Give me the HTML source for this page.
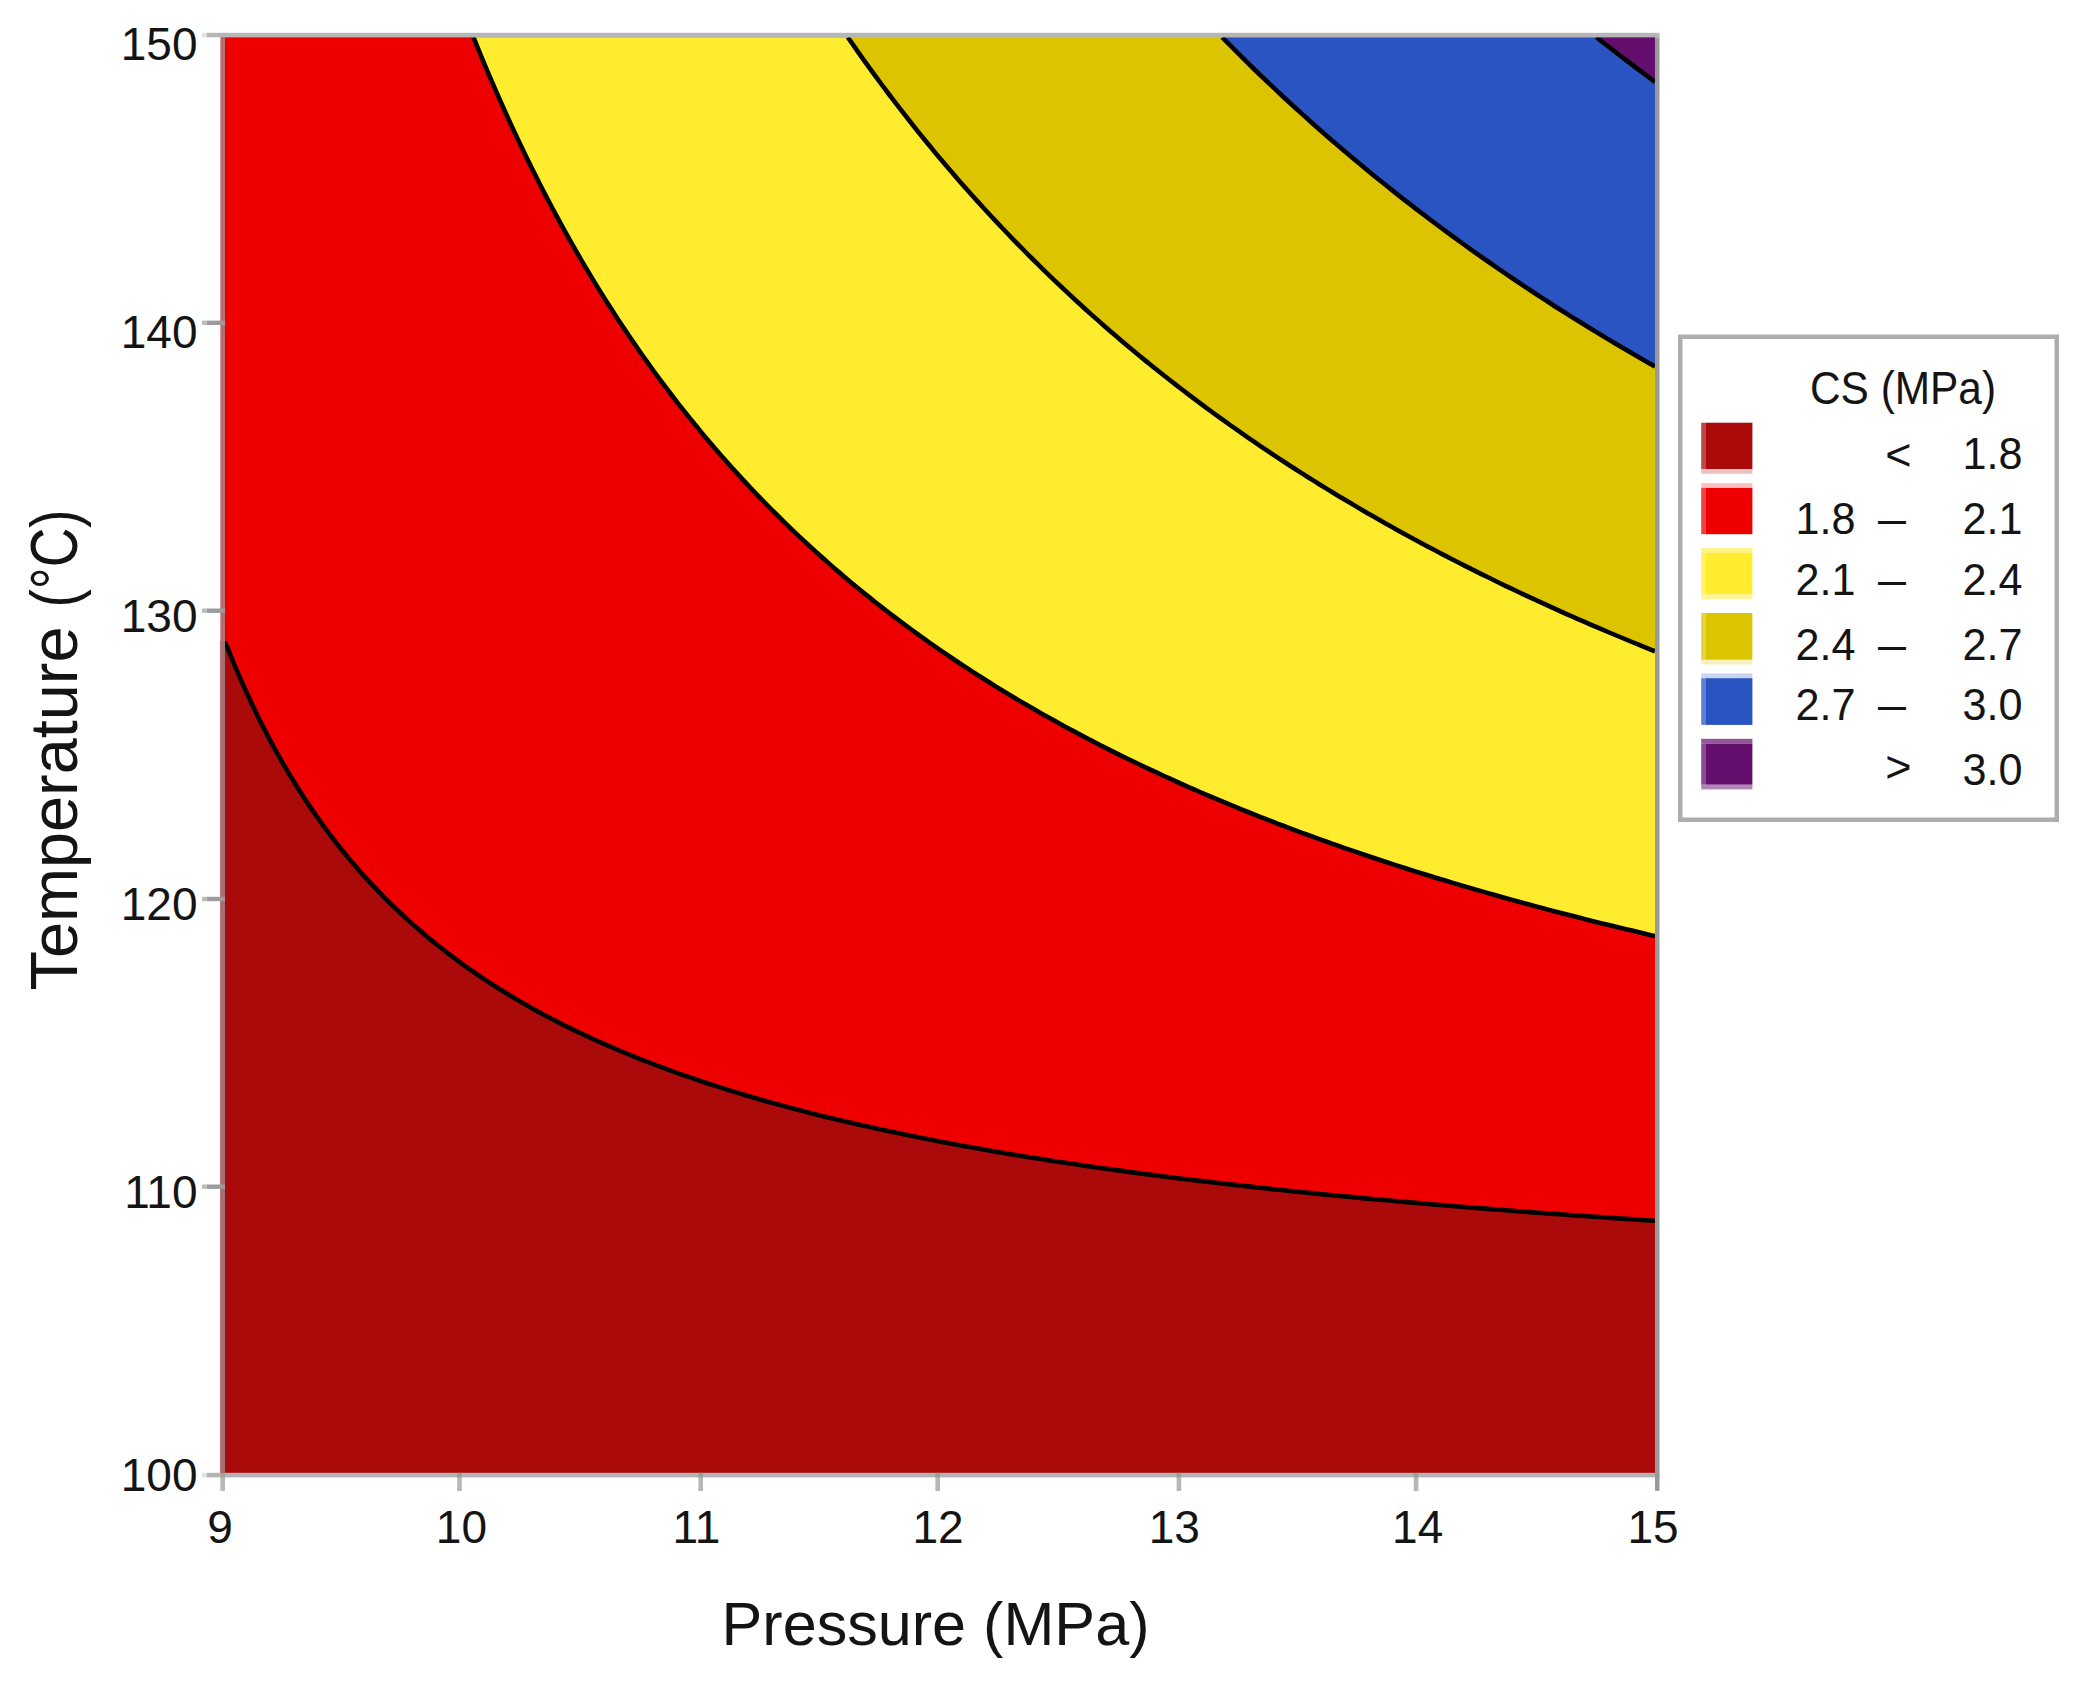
<!DOCTYPE html>
<html lang="en"><head><meta charset="utf-8"><title>Contour Plot of CS (MPa) vs Temperature, Pressure</title>
<style>
html,body{margin:0;padding:0;background:#fff;}
body{width:2085px;height:1687px;overflow:hidden;font-family:"Liberation Sans",Arial,sans-serif;}
svg{display:block;}
text{font-family:"Liberation Sans",Arial,sans-serif;fill:#141414;}
</style></head><body>
<svg width="2085" height="1687" viewBox="0 0 2085 1687">
<rect x="0" y="0" width="2085" height="1687" fill="#ffffff"/>
<g id="regions">
<defs><clipPath id="pc"><rect x="225.0" y="37.3" width="1430.0" height="1435.7"/></clipPath></defs>
<rect x="225.0" y="37.3" width="1430.0" height="1435.7" fill="#ab0a0a"/>
<path d="M225.0,641.5 L228.0,649.1 L234.0,663.8 L240.0,677.8 L246.0,691.3 L252.0,704.3 L258.0,716.7 L264.0,728.6 L270.0,740.1 L276.0,751.1 L282.0,761.8 L288.0,772.0 L294.0,781.9 L300.0,791.5 L306.0,800.7 L312.0,809.6 L318.0,818.2 L324.0,826.6 L330.0,834.6 L336.0,842.5 L342.0,850.0 L348.0,857.4 L354.0,864.5 L360.0,871.4 L366.0,878.1 L372.0,884.6 L378.0,890.9 L384.0,897.1 L390.0,903.1 L396.0,908.9 L402.0,914.5 L408.0,920.1 L414.0,925.4 L420.0,930.6 L426.0,935.7 L432.0,940.7 L438.0,945.5 L444.0,950.3 L450.0,954.9 L456.0,959.4 L462.0,963.8 L468.0,968.1 L474.0,972.2 L480.0,976.3 L486.0,980.3 L492.0,984.2 L498.0,988.1 L504.0,991.8 L510.0,995.5 L516.0,999.1 L522.0,1002.6 L528.0,1006.0 L534.0,1009.4 L540.0,1012.6 L546.0,1015.9 L552.0,1019.0 L558.0,1022.1 L564.0,1025.2 L570.0,1028.1 L576.0,1031.1 L582.0,1033.9 L588.0,1036.7 L594.0,1039.5 L600.0,1042.2 L606.0,1044.8 L612.0,1047.4 L618.0,1050.0 L624.0,1052.5 L630.0,1055.0 L636.0,1057.4 L642.0,1059.8 L648.0,1062.1 L654.0,1064.4 L660.0,1066.7 L666.0,1068.9 L672.0,1071.1 L678.0,1073.3 L684.0,1075.4 L690.0,1077.4 L696.0,1079.5 L702.0,1081.5 L708.0,1083.5 L714.0,1085.4 L720.0,1087.4 L726.0,1089.2 L732.0,1091.1 L738.0,1092.9 L744.0,1094.7 L750.0,1096.5 L756.0,1098.3 L762.0,1100.0 L768.0,1101.7 L774.0,1103.4 L780.0,1105.0 L786.0,1106.6 L792.0,1108.2 L798.0,1109.8 L804.0,1111.4 L810.0,1112.9 L816.0,1114.4 L822.0,1115.9 L828.0,1117.4 L834.0,1118.8 L840.0,1120.3 L846.0,1121.7 L852.0,1123.1 L858.0,1124.4 L864.0,1125.8 L870.0,1127.1 L876.0,1128.5 L882.0,1129.8 L888.0,1131.1 L894.0,1132.3 L900.0,1133.6 L906.0,1134.8 L912.0,1136.0 L918.0,1137.3 L924.0,1138.5 L930.0,1139.6 L936.0,1140.8 L942.0,1141.9 L948.0,1143.1 L954.0,1144.2 L960.0,1145.3 L966.0,1146.4 L972.0,1147.5 L978.0,1148.6 L984.0,1149.6 L990.0,1150.7 L996.0,1151.7 L1002.0,1152.7 L1008.0,1153.7 L1014.0,1154.7 L1020.0,1155.7 L1026.0,1156.7 L1032.0,1157.7 L1038.0,1158.6 L1044.0,1159.6 L1050.0,1160.5 L1056.0,1161.4 L1062.0,1162.3 L1068.0,1163.2 L1074.0,1164.1 L1080.0,1165.0 L1086.0,1165.9 L1092.0,1166.8 L1098.0,1167.6 L1104.0,1168.5 L1110.0,1169.3 L1116.0,1170.1 L1122.0,1170.9 L1128.0,1171.8 L1134.0,1172.6 L1140.0,1173.4 L1146.0,1174.2 L1152.0,1174.9 L1158.0,1175.7 L1164.0,1176.5 L1170.0,1177.2 L1176.0,1178.0 L1182.0,1178.7 L1188.0,1179.5 L1194.0,1180.2 L1200.0,1180.9 L1206.0,1181.6 L1212.0,1182.3 L1218.0,1183.0 L1224.0,1183.7 L1230.0,1184.4 L1236.0,1185.1 L1242.0,1185.8 L1248.0,1186.4 L1254.0,1187.1 L1260.0,1187.8 L1266.0,1188.4 L1272.0,1189.1 L1278.0,1189.7 L1284.0,1190.3 L1290.0,1191.0 L1296.0,1191.6 L1302.0,1192.2 L1308.0,1192.8 L1314.0,1193.4 L1320.0,1194.0 L1326.0,1194.6 L1332.0,1195.2 L1338.0,1195.8 L1344.0,1196.4 L1350.0,1196.9 L1356.0,1197.5 L1362.0,1198.1 L1368.0,1198.6 L1374.0,1199.2 L1380.0,1199.7 L1386.0,1200.3 L1392.0,1200.8 L1398.0,1201.4 L1404.0,1201.9 L1410.0,1202.4 L1416.0,1202.9 L1422.0,1203.5 L1428.0,1204.0 L1434.0,1204.5 L1440.0,1205.0 L1446.0,1205.5 L1452.0,1206.0 L1458.0,1206.5 L1464.0,1207.0 L1470.0,1207.5 L1476.0,1208.0 L1482.0,1208.4 L1488.0,1208.9 L1494.0,1209.4 L1500.0,1209.8 L1506.0,1210.3 L1512.0,1210.8 L1518.0,1211.2 L1524.0,1211.7 L1530.0,1212.1 L1536.0,1212.6 L1542.0,1213.0 L1548.0,1213.5 L1554.0,1213.9 L1560.0,1214.3 L1566.0,1214.8 L1572.0,1215.2 L1578.0,1215.6 L1584.0,1216.0 L1590.0,1216.5 L1596.0,1216.9 L1602.0,1217.3 L1608.0,1217.7 L1614.0,1218.1 L1620.0,1218.5 L1626.0,1218.9 L1632.0,1219.3 L1638.0,1219.7 L1644.0,1220.1 L1650.0,1220.5 L1655.0,1220.8 L1655.0,37.3 L225.0,37.3 Z" fill="#ee0000"/>
<path d="M473.5,37.3 L474.0,38.6 L480.0,53.4 L486.0,67.8 L492.0,81.9 L498.0,95.7 L504.0,109.2 L510.0,122.5 L516.0,135.4 L522.0,148.0 L528.0,160.4 L534.0,172.6 L540.0,184.5 L546.0,196.1 L552.0,207.5 L558.0,218.7 L564.0,229.7 L570.0,240.4 L576.0,250.9 L582.0,261.3 L588.0,271.4 L594.0,281.4 L600.0,291.1 L606.0,300.7 L612.0,310.1 L618.0,319.4 L624.0,328.4 L630.0,337.3 L636.0,346.1 L642.0,354.7 L648.0,363.2 L654.0,371.5 L660.0,379.6 L666.0,387.7 L672.0,395.5 L678.0,403.3 L684.0,410.9 L690.0,418.4 L696.0,425.8 L702.0,433.1 L708.0,440.3 L714.0,447.3 L720.0,454.2 L726.0,461.0 L732.0,467.8 L738.0,474.4 L744.0,480.9 L750.0,487.3 L756.0,493.6 L762.0,499.8 L768.0,506.0 L774.0,512.0 L780.0,518.0 L786.0,523.8 L792.0,529.6 L798.0,535.3 L804.0,540.9 L810.0,546.5 L816.0,551.9 L822.0,557.3 L828.0,562.6 L834.0,567.9 L840.0,573.1 L846.0,578.2 L852.0,583.2 L858.0,588.2 L864.0,593.1 L870.0,597.9 L876.0,602.7 L882.0,607.4 L888.0,612.0 L894.0,616.6 L900.0,621.1 L906.0,625.6 L912.0,630.0 L918.0,634.4 L924.0,638.7 L930.0,643.0 L936.0,647.2 L942.0,651.3 L948.0,655.4 L954.0,659.5 L960.0,663.5 L966.0,667.4 L972.0,671.4 L978.0,675.2 L984.0,679.0 L990.0,682.8 L996.0,686.6 L1002.0,690.2 L1008.0,693.9 L1014.0,697.5 L1020.0,701.1 L1026.0,704.6 L1032.0,708.1 L1038.0,711.5 L1044.0,714.9 L1050.0,718.3 L1056.0,721.6 L1062.0,724.9 L1068.0,728.2 L1074.0,731.4 L1080.0,734.6 L1086.0,737.8 L1092.0,740.9 L1098.0,744.0 L1104.0,747.1 L1110.0,750.1 L1116.0,753.1 L1122.0,756.1 L1128.0,759.0 L1134.0,761.9 L1140.0,764.8 L1146.0,767.6 L1152.0,770.4 L1158.0,773.2 L1164.0,776.0 L1170.0,778.7 L1176.0,781.4 L1182.0,784.1 L1188.0,786.8 L1194.0,789.4 L1200.0,792.0 L1206.0,794.6 L1212.0,797.2 L1218.0,799.7 L1224.0,802.2 L1230.0,804.7 L1236.0,807.1 L1242.0,809.6 L1248.0,812.0 L1254.0,814.4 L1260.0,816.8 L1266.0,819.1 L1272.0,821.4 L1278.0,823.8 L1284.0,826.0 L1290.0,828.3 L1296.0,830.6 L1302.0,832.8 L1308.0,835.0 L1314.0,837.2 L1320.0,839.3 L1326.0,841.5 L1332.0,843.6 L1338.0,845.7 L1344.0,847.8 L1350.0,849.9 L1356.0,851.9 L1362.0,854.0 L1368.0,856.0 L1374.0,858.0 L1380.0,860.0 L1386.0,862.0 L1392.0,863.9 L1398.0,865.9 L1404.0,867.8 L1410.0,869.7 L1416.0,871.6 L1422.0,873.5 L1428.0,875.3 L1434.0,877.2 L1440.0,879.0 L1446.0,880.8 L1452.0,882.6 L1458.0,884.4 L1464.0,886.2 L1470.0,887.9 L1476.0,889.7 L1482.0,891.4 L1488.0,893.1 L1494.0,894.8 L1500.0,896.5 L1506.0,898.2 L1512.0,899.9 L1518.0,901.5 L1524.0,903.1 L1530.0,904.8 L1536.0,906.4 L1542.0,908.0 L1548.0,909.6 L1554.0,911.2 L1560.0,912.7 L1566.0,914.3 L1572.0,915.8 L1578.0,917.3 L1584.0,918.9 L1590.0,920.4 L1596.0,921.9 L1602.0,923.4 L1608.0,924.8 L1614.0,926.3 L1620.0,927.8 L1626.0,929.2 L1632.0,930.6 L1638.0,932.1 L1644.0,933.5 L1650.0,934.9 L1655.0,936.0 L1655.0,37.3 Z" fill="#ffec2e"/>
<path d="M847.8,37.3 L852.0,43.3 L858.0,51.9 L864.0,60.3 L870.0,68.6 L876.0,76.9 L882.0,85.0 L888.0,93.0 L894.0,100.9 L900.0,108.7 L906.0,116.4 L912.0,124.0 L918.0,131.6 L924.0,139.0 L930.0,146.3 L936.0,153.6 L942.0,160.7 L948.0,167.8 L954.0,174.8 L960.0,181.7 L966.0,188.5 L972.0,195.2 L978.0,201.9 L984.0,208.5 L990.0,215.0 L996.0,221.4 L1002.0,227.8 L1008.0,234.0 L1014.0,240.3 L1020.0,246.4 L1026.0,252.5 L1032.0,258.5 L1038.0,264.4 L1044.0,270.3 L1050.0,276.1 L1056.0,281.9 L1062.0,287.5 L1068.0,293.2 L1074.0,298.7 L1080.0,304.2 L1086.0,309.7 L1092.0,315.1 L1098.0,320.4 L1104.0,325.7 L1110.0,330.9 L1116.0,336.0 L1122.0,341.2 L1128.0,346.2 L1134.0,351.2 L1140.0,356.2 L1146.0,361.1 L1152.0,366.0 L1158.0,370.8 L1164.0,375.5 L1170.0,380.2 L1176.0,384.9 L1182.0,389.5 L1188.0,394.1 L1194.0,398.6 L1200.0,403.1 L1206.0,407.6 L1212.0,412.0 L1218.0,416.4 L1224.0,420.7 L1230.0,425.0 L1236.0,429.2 L1242.0,433.4 L1248.0,437.6 L1254.0,441.7 L1260.0,445.8 L1266.0,449.8 L1272.0,453.8 L1278.0,457.8 L1284.0,461.7 L1290.0,465.7 L1296.0,469.5 L1302.0,473.4 L1308.0,477.2 L1314.0,480.9 L1320.0,484.7 L1326.0,488.4 L1332.0,492.0 L1338.0,495.7 L1344.0,499.3 L1350.0,502.8 L1356.0,506.4 L1362.0,509.9 L1368.0,513.4 L1374.0,516.8 L1380.0,520.3 L1386.0,523.7 L1392.0,527.0 L1398.0,530.4 L1404.0,533.7 L1410.0,537.0 L1416.0,540.2 L1422.0,543.5 L1428.0,546.7 L1434.0,549.8 L1440.0,553.0 L1446.0,556.1 L1452.0,559.2 L1458.0,562.3 L1464.0,565.4 L1470.0,568.4 L1476.0,571.4 L1482.0,574.4 L1488.0,577.3 L1494.0,580.3 L1500.0,583.2 L1506.0,586.1 L1512.0,588.9 L1518.0,591.8 L1524.0,594.6 L1530.0,597.4 L1536.0,600.2 L1542.0,602.9 L1548.0,605.7 L1554.0,608.4 L1560.0,611.1 L1566.0,613.8 L1572.0,616.4 L1578.0,619.1 L1584.0,621.7 L1590.0,624.3 L1596.0,626.9 L1602.0,629.4 L1608.0,632.0 L1614.0,634.5 L1620.0,637.0 L1626.0,639.5 L1632.0,642.0 L1638.0,644.4 L1644.0,646.9 L1650.0,649.3 L1655.0,651.3 L1655.0,37.3 Z" fill="#dcc400"/>
<path d="M1222.2,37.3 L1224.0,39.1 L1230.0,45.2 L1236.0,51.2 L1242.0,57.2 L1248.0,63.1 L1254.0,69.0 L1260.0,74.8 L1266.0,80.5 L1272.0,86.2 L1278.0,91.9 L1284.0,97.5 L1290.0,103.0 L1296.0,108.5 L1302.0,113.9 L1308.0,119.3 L1314.0,124.7 L1320.0,130.0 L1326.0,135.2 L1332.0,140.4 L1338.0,145.6 L1344.0,150.7 L1350.0,155.8 L1356.0,160.8 L1362.0,165.8 L1368.0,170.8 L1374.0,175.7 L1380.0,180.5 L1386.0,185.3 L1392.0,190.1 L1398.0,194.9 L1404.0,199.6 L1410.0,204.2 L1416.0,208.9 L1422.0,213.4 L1428.0,218.0 L1434.0,222.5 L1440.0,227.0 L1446.0,231.4 L1452.0,235.8 L1458.0,240.2 L1464.0,244.5 L1470.0,248.8 L1476.0,253.1 L1482.0,257.3 L1488.0,261.5 L1494.0,265.7 L1500.0,269.8 L1506.0,273.9 L1512.0,278.0 L1518.0,282.0 L1524.0,286.1 L1530.0,290.0 L1536.0,294.0 L1542.0,297.9 L1548.0,301.8 L1554.0,305.7 L1560.0,309.5 L1566.0,313.3 L1572.0,317.1 L1578.0,320.8 L1584.0,324.5 L1590.0,328.2 L1596.0,331.9 L1602.0,335.5 L1608.0,339.1 L1614.0,342.7 L1620.0,346.3 L1626.0,349.8 L1632.0,353.3 L1638.0,356.8 L1644.0,360.3 L1650.0,363.7 L1655.0,366.5 L1655.0,37.3 Z" fill="#2a54c2"/>
<path d="M1596.5,37.3 L1602.0,41.6 L1608.0,46.3 L1614.0,50.9 L1620.0,55.5 L1626.0,60.1 L1632.0,64.6 L1638.0,69.2 L1644.0,73.6 L1650.0,78.1 L1655.0,81.8 L1655.0,37.3 Z" fill="#640e6e"/>
<path d="M225.0,641.5 L228.0,649.1 L234.0,663.8 L240.0,677.8 L246.0,691.3 L252.0,704.3 L258.0,716.7 L264.0,728.6 L270.0,740.1 L276.0,751.1 L282.0,761.8 L288.0,772.0 L294.0,781.9 L300.0,791.5 L306.0,800.7 L312.0,809.6 L318.0,818.2 L324.0,826.6 L330.0,834.6 L336.0,842.5 L342.0,850.0 L348.0,857.4 L354.0,864.5 L360.0,871.4 L366.0,878.1 L372.0,884.6 L378.0,890.9 L384.0,897.1 L390.0,903.1 L396.0,908.9 L402.0,914.5 L408.0,920.1 L414.0,925.4 L420.0,930.6 L426.0,935.7 L432.0,940.7 L438.0,945.5 L444.0,950.3 L450.0,954.9 L456.0,959.4 L462.0,963.8 L468.0,968.1 L474.0,972.2 L480.0,976.3 L486.0,980.3 L492.0,984.2 L498.0,988.1 L504.0,991.8 L510.0,995.5 L516.0,999.1 L522.0,1002.6 L528.0,1006.0 L534.0,1009.4 L540.0,1012.6 L546.0,1015.9 L552.0,1019.0 L558.0,1022.1 L564.0,1025.2 L570.0,1028.1 L576.0,1031.1 L582.0,1033.9 L588.0,1036.7 L594.0,1039.5 L600.0,1042.2 L606.0,1044.8 L612.0,1047.4 L618.0,1050.0 L624.0,1052.5 L630.0,1055.0 L636.0,1057.4 L642.0,1059.8 L648.0,1062.1 L654.0,1064.4 L660.0,1066.7 L666.0,1068.9 L672.0,1071.1 L678.0,1073.3 L684.0,1075.4 L690.0,1077.4 L696.0,1079.5 L702.0,1081.5 L708.0,1083.5 L714.0,1085.4 L720.0,1087.4 L726.0,1089.2 L732.0,1091.1 L738.0,1092.9 L744.0,1094.7 L750.0,1096.5 L756.0,1098.3 L762.0,1100.0 L768.0,1101.7 L774.0,1103.4 L780.0,1105.0 L786.0,1106.6 L792.0,1108.2 L798.0,1109.8 L804.0,1111.4 L810.0,1112.9 L816.0,1114.4 L822.0,1115.9 L828.0,1117.4 L834.0,1118.8 L840.0,1120.3 L846.0,1121.7 L852.0,1123.1 L858.0,1124.4 L864.0,1125.8 L870.0,1127.1 L876.0,1128.5 L882.0,1129.8 L888.0,1131.1 L894.0,1132.3 L900.0,1133.6 L906.0,1134.8 L912.0,1136.0 L918.0,1137.3 L924.0,1138.5 L930.0,1139.6 L936.0,1140.8 L942.0,1141.9 L948.0,1143.1 L954.0,1144.2 L960.0,1145.3 L966.0,1146.4 L972.0,1147.5 L978.0,1148.6 L984.0,1149.6 L990.0,1150.7 L996.0,1151.7 L1002.0,1152.7 L1008.0,1153.7 L1014.0,1154.7 L1020.0,1155.7 L1026.0,1156.7 L1032.0,1157.7 L1038.0,1158.6 L1044.0,1159.6 L1050.0,1160.5 L1056.0,1161.4 L1062.0,1162.3 L1068.0,1163.2 L1074.0,1164.1 L1080.0,1165.0 L1086.0,1165.9 L1092.0,1166.8 L1098.0,1167.6 L1104.0,1168.5 L1110.0,1169.3 L1116.0,1170.1 L1122.0,1170.9 L1128.0,1171.8 L1134.0,1172.6 L1140.0,1173.4 L1146.0,1174.2 L1152.0,1174.9 L1158.0,1175.7 L1164.0,1176.5 L1170.0,1177.2 L1176.0,1178.0 L1182.0,1178.7 L1188.0,1179.5 L1194.0,1180.2 L1200.0,1180.9 L1206.0,1181.6 L1212.0,1182.3 L1218.0,1183.0 L1224.0,1183.7 L1230.0,1184.4 L1236.0,1185.1 L1242.0,1185.8 L1248.0,1186.4 L1254.0,1187.1 L1260.0,1187.8 L1266.0,1188.4 L1272.0,1189.1 L1278.0,1189.7 L1284.0,1190.3 L1290.0,1191.0 L1296.0,1191.6 L1302.0,1192.2 L1308.0,1192.8 L1314.0,1193.4 L1320.0,1194.0 L1326.0,1194.6 L1332.0,1195.2 L1338.0,1195.8 L1344.0,1196.4 L1350.0,1196.9 L1356.0,1197.5 L1362.0,1198.1 L1368.0,1198.6 L1374.0,1199.2 L1380.0,1199.7 L1386.0,1200.3 L1392.0,1200.8 L1398.0,1201.4 L1404.0,1201.9 L1410.0,1202.4 L1416.0,1202.9 L1422.0,1203.5 L1428.0,1204.0 L1434.0,1204.5 L1440.0,1205.0 L1446.0,1205.5 L1452.0,1206.0 L1458.0,1206.5 L1464.0,1207.0 L1470.0,1207.5 L1476.0,1208.0 L1482.0,1208.4 L1488.0,1208.9 L1494.0,1209.4 L1500.0,1209.8 L1506.0,1210.3 L1512.0,1210.8 L1518.0,1211.2 L1524.0,1211.7 L1530.0,1212.1 L1536.0,1212.6 L1542.0,1213.0 L1548.0,1213.5 L1554.0,1213.9 L1560.0,1214.3 L1566.0,1214.8 L1572.0,1215.2 L1578.0,1215.6 L1584.0,1216.0 L1590.0,1216.5 L1596.0,1216.9 L1602.0,1217.3 L1608.0,1217.7 L1614.0,1218.1 L1620.0,1218.5 L1626.0,1218.9 L1632.0,1219.3 L1638.0,1219.7 L1644.0,1220.1 L1650.0,1220.5 L1655.0,1220.8" fill="none" stroke="#000" stroke-width="4.6" stroke-linecap="butt" clip-path="url(#pc)"/>
<path d="M473.5,37.3 L474.0,38.6 L480.0,53.4 L486.0,67.8 L492.0,81.9 L498.0,95.7 L504.0,109.2 L510.0,122.5 L516.0,135.4 L522.0,148.0 L528.0,160.4 L534.0,172.6 L540.0,184.5 L546.0,196.1 L552.0,207.5 L558.0,218.7 L564.0,229.7 L570.0,240.4 L576.0,250.9 L582.0,261.3 L588.0,271.4 L594.0,281.4 L600.0,291.1 L606.0,300.7 L612.0,310.1 L618.0,319.4 L624.0,328.4 L630.0,337.3 L636.0,346.1 L642.0,354.7 L648.0,363.2 L654.0,371.5 L660.0,379.6 L666.0,387.7 L672.0,395.5 L678.0,403.3 L684.0,410.9 L690.0,418.4 L696.0,425.8 L702.0,433.1 L708.0,440.3 L714.0,447.3 L720.0,454.2 L726.0,461.0 L732.0,467.8 L738.0,474.4 L744.0,480.9 L750.0,487.3 L756.0,493.6 L762.0,499.8 L768.0,506.0 L774.0,512.0 L780.0,518.0 L786.0,523.8 L792.0,529.6 L798.0,535.3 L804.0,540.9 L810.0,546.5 L816.0,551.9 L822.0,557.3 L828.0,562.6 L834.0,567.9 L840.0,573.1 L846.0,578.2 L852.0,583.2 L858.0,588.2 L864.0,593.1 L870.0,597.9 L876.0,602.7 L882.0,607.4 L888.0,612.0 L894.0,616.6 L900.0,621.1 L906.0,625.6 L912.0,630.0 L918.0,634.4 L924.0,638.7 L930.0,643.0 L936.0,647.2 L942.0,651.3 L948.0,655.4 L954.0,659.5 L960.0,663.5 L966.0,667.4 L972.0,671.4 L978.0,675.2 L984.0,679.0 L990.0,682.8 L996.0,686.6 L1002.0,690.2 L1008.0,693.9 L1014.0,697.5 L1020.0,701.1 L1026.0,704.6 L1032.0,708.1 L1038.0,711.5 L1044.0,714.9 L1050.0,718.3 L1056.0,721.6 L1062.0,724.9 L1068.0,728.2 L1074.0,731.4 L1080.0,734.6 L1086.0,737.8 L1092.0,740.9 L1098.0,744.0 L1104.0,747.1 L1110.0,750.1 L1116.0,753.1 L1122.0,756.1 L1128.0,759.0 L1134.0,761.9 L1140.0,764.8 L1146.0,767.6 L1152.0,770.4 L1158.0,773.2 L1164.0,776.0 L1170.0,778.7 L1176.0,781.4 L1182.0,784.1 L1188.0,786.8 L1194.0,789.4 L1200.0,792.0 L1206.0,794.6 L1212.0,797.2 L1218.0,799.7 L1224.0,802.2 L1230.0,804.7 L1236.0,807.1 L1242.0,809.6 L1248.0,812.0 L1254.0,814.4 L1260.0,816.8 L1266.0,819.1 L1272.0,821.4 L1278.0,823.8 L1284.0,826.0 L1290.0,828.3 L1296.0,830.6 L1302.0,832.8 L1308.0,835.0 L1314.0,837.2 L1320.0,839.3 L1326.0,841.5 L1332.0,843.6 L1338.0,845.7 L1344.0,847.8 L1350.0,849.9 L1356.0,851.9 L1362.0,854.0 L1368.0,856.0 L1374.0,858.0 L1380.0,860.0 L1386.0,862.0 L1392.0,863.9 L1398.0,865.9 L1404.0,867.8 L1410.0,869.7 L1416.0,871.6 L1422.0,873.5 L1428.0,875.3 L1434.0,877.2 L1440.0,879.0 L1446.0,880.8 L1452.0,882.6 L1458.0,884.4 L1464.0,886.2 L1470.0,887.9 L1476.0,889.7 L1482.0,891.4 L1488.0,893.1 L1494.0,894.8 L1500.0,896.5 L1506.0,898.2 L1512.0,899.9 L1518.0,901.5 L1524.0,903.1 L1530.0,904.8 L1536.0,906.4 L1542.0,908.0 L1548.0,909.6 L1554.0,911.2 L1560.0,912.7 L1566.0,914.3 L1572.0,915.8 L1578.0,917.3 L1584.0,918.9 L1590.0,920.4 L1596.0,921.9 L1602.0,923.4 L1608.0,924.8 L1614.0,926.3 L1620.0,927.8 L1626.0,929.2 L1632.0,930.6 L1638.0,932.1 L1644.0,933.5 L1650.0,934.9 L1655.0,936.0" fill="none" stroke="#000" stroke-width="4.6" stroke-linecap="butt" clip-path="url(#pc)"/>
<path d="M847.8,37.3 L852.0,43.3 L858.0,51.9 L864.0,60.3 L870.0,68.6 L876.0,76.9 L882.0,85.0 L888.0,93.0 L894.0,100.9 L900.0,108.7 L906.0,116.4 L912.0,124.0 L918.0,131.6 L924.0,139.0 L930.0,146.3 L936.0,153.6 L942.0,160.7 L948.0,167.8 L954.0,174.8 L960.0,181.7 L966.0,188.5 L972.0,195.2 L978.0,201.9 L984.0,208.5 L990.0,215.0 L996.0,221.4 L1002.0,227.8 L1008.0,234.0 L1014.0,240.3 L1020.0,246.4 L1026.0,252.5 L1032.0,258.5 L1038.0,264.4 L1044.0,270.3 L1050.0,276.1 L1056.0,281.9 L1062.0,287.5 L1068.0,293.2 L1074.0,298.7 L1080.0,304.2 L1086.0,309.7 L1092.0,315.1 L1098.0,320.4 L1104.0,325.7 L1110.0,330.9 L1116.0,336.0 L1122.0,341.2 L1128.0,346.2 L1134.0,351.2 L1140.0,356.2 L1146.0,361.1 L1152.0,366.0 L1158.0,370.8 L1164.0,375.5 L1170.0,380.2 L1176.0,384.9 L1182.0,389.5 L1188.0,394.1 L1194.0,398.6 L1200.0,403.1 L1206.0,407.6 L1212.0,412.0 L1218.0,416.4 L1224.0,420.7 L1230.0,425.0 L1236.0,429.2 L1242.0,433.4 L1248.0,437.6 L1254.0,441.7 L1260.0,445.8 L1266.0,449.8 L1272.0,453.8 L1278.0,457.8 L1284.0,461.7 L1290.0,465.7 L1296.0,469.5 L1302.0,473.4 L1308.0,477.2 L1314.0,480.9 L1320.0,484.7 L1326.0,488.4 L1332.0,492.0 L1338.0,495.7 L1344.0,499.3 L1350.0,502.8 L1356.0,506.4 L1362.0,509.9 L1368.0,513.4 L1374.0,516.8 L1380.0,520.3 L1386.0,523.7 L1392.0,527.0 L1398.0,530.4 L1404.0,533.7 L1410.0,537.0 L1416.0,540.2 L1422.0,543.5 L1428.0,546.7 L1434.0,549.8 L1440.0,553.0 L1446.0,556.1 L1452.0,559.2 L1458.0,562.3 L1464.0,565.4 L1470.0,568.4 L1476.0,571.4 L1482.0,574.4 L1488.0,577.3 L1494.0,580.3 L1500.0,583.2 L1506.0,586.1 L1512.0,588.9 L1518.0,591.8 L1524.0,594.6 L1530.0,597.4 L1536.0,600.2 L1542.0,602.9 L1548.0,605.7 L1554.0,608.4 L1560.0,611.1 L1566.0,613.8 L1572.0,616.4 L1578.0,619.1 L1584.0,621.7 L1590.0,624.3 L1596.0,626.9 L1602.0,629.4 L1608.0,632.0 L1614.0,634.5 L1620.0,637.0 L1626.0,639.5 L1632.0,642.0 L1638.0,644.4 L1644.0,646.9 L1650.0,649.3 L1655.0,651.3" fill="none" stroke="#000" stroke-width="4.6" stroke-linecap="butt" clip-path="url(#pc)"/>
<path d="M1222.2,37.3 L1224.0,39.1 L1230.0,45.2 L1236.0,51.2 L1242.0,57.2 L1248.0,63.1 L1254.0,69.0 L1260.0,74.8 L1266.0,80.5 L1272.0,86.2 L1278.0,91.9 L1284.0,97.5 L1290.0,103.0 L1296.0,108.5 L1302.0,113.9 L1308.0,119.3 L1314.0,124.7 L1320.0,130.0 L1326.0,135.2 L1332.0,140.4 L1338.0,145.6 L1344.0,150.7 L1350.0,155.8 L1356.0,160.8 L1362.0,165.8 L1368.0,170.8 L1374.0,175.7 L1380.0,180.5 L1386.0,185.3 L1392.0,190.1 L1398.0,194.9 L1404.0,199.6 L1410.0,204.2 L1416.0,208.9 L1422.0,213.4 L1428.0,218.0 L1434.0,222.5 L1440.0,227.0 L1446.0,231.4 L1452.0,235.8 L1458.0,240.2 L1464.0,244.5 L1470.0,248.8 L1476.0,253.1 L1482.0,257.3 L1488.0,261.5 L1494.0,265.7 L1500.0,269.8 L1506.0,273.9 L1512.0,278.0 L1518.0,282.0 L1524.0,286.1 L1530.0,290.0 L1536.0,294.0 L1542.0,297.9 L1548.0,301.8 L1554.0,305.7 L1560.0,309.5 L1566.0,313.3 L1572.0,317.1 L1578.0,320.8 L1584.0,324.5 L1590.0,328.2 L1596.0,331.9 L1602.0,335.5 L1608.0,339.1 L1614.0,342.7 L1620.0,346.3 L1626.0,349.8 L1632.0,353.3 L1638.0,356.8 L1644.0,360.3 L1650.0,363.7 L1655.0,366.5" fill="none" stroke="#000" stroke-width="4.6" stroke-linecap="butt" clip-path="url(#pc)"/>
<path d="M1596.5,37.3 L1602.0,41.6 L1608.0,46.3 L1614.0,50.9 L1620.0,55.5 L1626.0,60.1 L1632.0,64.6 L1638.0,69.2 L1644.0,73.6 L1650.0,78.1 L1655.0,81.8" fill="none" stroke="#000" stroke-width="4.6" stroke-linecap="butt" clip-path="url(#pc)"/></g>
<g id="axes">
<rect x="206.5" y="32.8" width="1453" height="4.5" fill="#b6b6b6"/>
<rect x="202" y="32.8" width="4.5" height="4.5" fill="#e4e4e4"/>
<rect x="206.5" y="1472.8" width="1453" height="4.6" fill="#b4b4b4"/>
<rect x="220.6" y="37.3" width="4.4" height="1435.5" fill="#ee0000"/>
<rect x="220.6" y="641" width="4.4" height="832" fill="#ab0a0a"/>
<rect x="220.6" y="37.3" width="4.4" height="1453.5" fill="#999999" fill-opacity="0.73"/>
<rect x="220.6" y="1477.4" width="4.4" height="13.4" fill="#b8b8b8"/>
<rect x="1655" y="37.3" width="4.5" height="1453.5" fill="#9a9a9a"/>
<rect x="206.5" y="320.6" width="18.5" height="4.4" fill="#9c9c9c"/><rect x="202" y="320.6" width="4.5" height="4.4" fill="#bcbcbc"/>
<rect x="206.5" y="608.5" width="18.5" height="4.4" fill="#9c9c9c"/><rect x="202" y="608.5" width="4.5" height="4.4" fill="#bcbcbc"/>
<rect x="206.5" y="896.8" width="18.5" height="4.4" fill="#9c9c9c"/><rect x="202" y="896.8" width="4.5" height="4.4" fill="#bcbcbc"/>
<rect x="206.5" y="1184.5" width="18.5" height="4.4" fill="#9c9c9c"/><rect x="202" y="1184.5" width="4.5" height="4.4" fill="#bcbcbc"/>
<rect x="202" y="1472.8" width="4.5" height="4.6" fill="#e0e0e0"/>
<rect x="457.2" y="1472.8" width="4.6" height="18.2" fill="#909090" fill-opacity="0.65"/>
<rect x="698.4" y="1472.8" width="4.6" height="18.2" fill="#909090" fill-opacity="0.65"/>
<rect x="935.4" y="1472.8" width="4.6" height="18.2" fill="#909090" fill-opacity="0.65"/>
<rect x="1176.6" y="1472.8" width="4.6" height="18.2" fill="#909090" fill-opacity="0.65"/>
<rect x="1413.8" y="1472.8" width="4.6" height="18.2" fill="#909090" fill-opacity="0.65"/>
</g>
<g id="ticklabels" font-size="46">
<text x="197.5" y="60.4" text-anchor="end">150</text>
<text x="197.5" y="348.4" text-anchor="end">140</text>
<text x="197.5" y="631.6" text-anchor="end">130</text>
<text x="197.5" y="919.7" text-anchor="end">120</text>
<text x="197.5" y="1208.1" text-anchor="end">110</text>
<text x="197.5" y="1491" text-anchor="end">100</text>
<text x="220" y="1542.5" text-anchor="middle">9</text>
<text x="461.4" y="1542.5" text-anchor="middle">10</text>
<text x="696.5" y="1542.5" text-anchor="middle">11</text>
<text x="938" y="1542.5" text-anchor="middle">12</text>
<text x="1174.3" y="1542.5" text-anchor="middle">13</text>
<text x="1417.7" y="1542.5" text-anchor="middle">14</text>
<text x="1653" y="1542.5" text-anchor="middle">15</text>
</g>
<g id="axislabels">
<text x="721.5" y="1644.5" font-size="61" textLength="428" lengthAdjust="spacingAndGlyphs">Pressure (MPa)</text>
<text transform="translate(76.8,990.5) rotate(-90)" font-size="66"><tspan x="0" textLength="364" lengthAdjust="spacingAndGlyphs">Temperature</tspan><tspan x="364" textLength="18" lengthAdjust="spacingAndGlyphs"> </tspan><tspan x="383" textLength="98" lengthAdjust="spacingAndGlyphs">(°C)</tspan></text>
</g>
<g id="legend">
<rect x="1680.25" y="336.75" width="376.5" height="483" fill="#ffffff" stroke="#adadad" stroke-width="4.5"/>
<rect x="1706" y="422.7" width="46.4" height="46.3" fill="#ab0a0a"/><rect x="1701.2" y="422.7" width="4.8" height="46.3" fill="#ab0a0a" fill-opacity="0.75"/><rect x="1701.2" y="469.0" width="51.2" height="4.8" fill="#ab0a0a" fill-opacity="0.25"/>
<rect x="1706" y="487.9" width="46.4" height="46.3" fill="#ee0000"/><rect x="1701.2" y="487.9" width="4.8" height="46.3" fill="#ee0000" fill-opacity="0.75"/><rect x="1701.2" y="483.1" width="51.2" height="4.8" fill="#ee0000" fill-opacity="0.25"/>
<rect x="1706" y="552.9" width="46.4" height="41.4" fill="#ffec2e"/><rect x="1701.2" y="552.9" width="4.8" height="41.4" fill="#ffec2e" fill-opacity="0.75"/><rect x="1701.2" y="548.1" width="51.2" height="4.8" fill="#ffec2e" fill-opacity="0.6"/><rect x="1701.2" y="594.3" width="51.2" height="4.8" fill="#ffec2e" fill-opacity="0.5"/>
<rect x="1706" y="613.0" width="46.4" height="46.7" fill="#dcc400"/><rect x="1701.2" y="613.0" width="4.8" height="46.7" fill="#dcc400" fill-opacity="0.75"/><rect x="1701.2" y="659.7" width="51.2" height="4.8" fill="#dcc400" fill-opacity="0.25"/>
<rect x="1706" y="678.2" width="46.4" height="46.7" fill="#2a54c2"/><rect x="1701.2" y="678.2" width="4.8" height="46.7" fill="#2a54c2" fill-opacity="0.75"/><rect x="1701.2" y="673.4" width="51.2" height="4.8" fill="#2a54c2" fill-opacity="0.25"/>
<rect x="1706" y="743.6" width="46.4" height="41.0" fill="#640e6e"/><rect x="1701.2" y="743.6" width="4.8" height="41.0" fill="#640e6e" fill-opacity="0.75"/><rect x="1701.2" y="738.8" width="51.2" height="4.8" fill="#640e6e" fill-opacity="0.7"/><rect x="1701.2" y="784.6" width="51.2" height="4.8" fill="#640e6e" fill-opacity="0.5"/>
<text x="1810" y="403.6" font-size="46" textLength="186" lengthAdjust="spacingAndGlyphs">CS (MPa)</text>
<g font-size="45">
<text x="1898.5" y="470.3" text-anchor="middle">&lt;</text><text x="1962.5" y="468.8" textLength="60" lengthAdjust="spacingAndGlyphs">1.8</text>
<text x="1795.5" y="534" textLength="60" lengthAdjust="spacingAndGlyphs">1.8</text><text x="1878" y="534" textLength="28" lengthAdjust="spacingAndGlyphs">–</text><text x="1962.5" y="534" textLength="60" lengthAdjust="spacingAndGlyphs">2.1</text>
<text x="1795.5" y="594.7" textLength="60" lengthAdjust="spacingAndGlyphs">2.1</text><text x="1878" y="594.7" textLength="28" lengthAdjust="spacingAndGlyphs">–</text><text x="1962.5" y="594.7" textLength="60" lengthAdjust="spacingAndGlyphs">2.4</text>
<text x="1795.5" y="659.9" textLength="60" lengthAdjust="spacingAndGlyphs">2.4</text><text x="1878" y="659.9" textLength="28" lengthAdjust="spacingAndGlyphs">–</text><text x="1962.5" y="659.9" textLength="60" lengthAdjust="spacingAndGlyphs">2.7</text>
<text x="1795.5" y="720" textLength="60" lengthAdjust="spacingAndGlyphs">2.7</text><text x="1878" y="720" textLength="28" lengthAdjust="spacingAndGlyphs">–</text><text x="1962.5" y="720" textLength="60" lengthAdjust="spacingAndGlyphs">3.0</text>
<text x="1898.5" y="782.2" text-anchor="middle">&gt;</text><text x="1962.5" y="785.2" textLength="60" lengthAdjust="spacingAndGlyphs">3.0</text>
</g>
</g>
</svg>
</body></html>
